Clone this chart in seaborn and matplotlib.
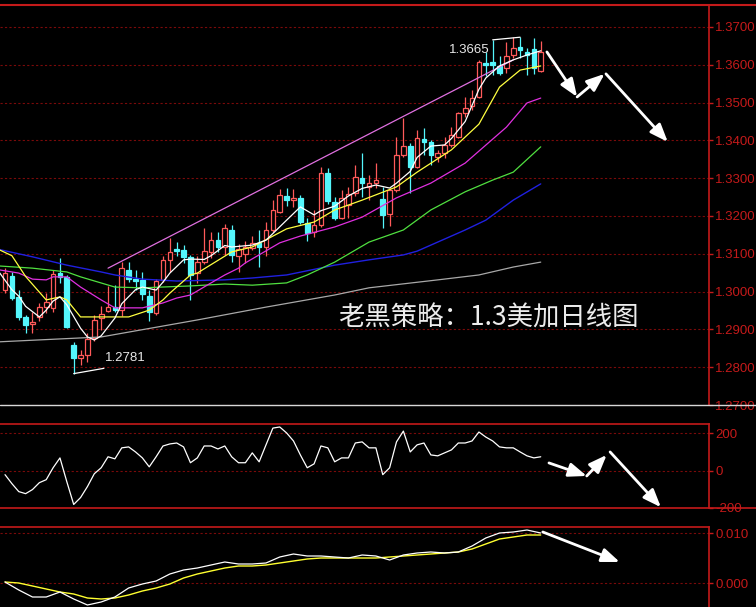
import matplotlib
matplotlib.use("Agg")
import matplotlib.pyplot as plt
from matplotlib.lines import Line2D
import seaborn as sns

sns.set_theme(style="dark", rc={"axes.facecolor": "black", "figure.facecolor": "black",
                                "savefig.facecolor": "black"})
plt.rcParams['font.family'] = ['Liberation Sans', 'Noto Sans CJK SC', 'DejaVu Sans']

# ---------------- data (daily USD/CAD candles) ----------------
opens = [1.3004, 1.3041, 1.2986, 1.2933, 1.2914, 1.2933, 1.2959, 1.2957, 1.3049, 1.3039,
         1.2859, 1.2824, 1.2832, 1.2877, 1.2930, 1.2949, 1.2959, 1.2951, 1.3057, 1.3033,
         1.3031, 1.2988, 1.2943, 1.3031, 1.3084, 1.3113, 1.3110, 1.3092, 1.3049, 1.3078,
         1.3105, 1.3137, 1.3118, 1.3163, 1.3094, 1.3100, 1.3115, 1.3129, 1.3118, 1.3163,
         1.3211, 1.3253, 1.3242, 1.3248, 1.3182, 1.3158, 1.3176, 1.3314, 1.3237, 1.3195,
         1.3229, 1.3261, 1.3301, 1.3277, 1.3287, 1.3245, 1.3205, 1.3269, 1.3361, 1.3385,
         1.3330, 1.3404, 1.3396, 1.3356, 1.3367, 1.3388, 1.3409, 1.3472, 1.3491, 1.3515,
         1.3605, 1.3607, 1.3597, 1.3592, 1.3626, 1.3647, 1.3634, 1.3642, 1.3584]
highs = [1.3062, 1.3052, 1.3004, 1.2938, 1.2946, 1.2970, 1.2996, 1.3057, 1.3089, 1.3044,
         1.2867, 1.2846, 1.2890, 1.2938, 1.2962, 1.3015, 1.3017, 1.3078, 1.3078, 1.3057,
         1.3052, 1.3004, 1.3033, 1.3094, 1.3142, 1.3131, 1.3123, 1.3097, 1.3094, 1.3168,
         1.3158, 1.3158, 1.3179, 1.3176, 1.3126, 1.3134, 1.3147, 1.3163, 1.3184, 1.3242,
         1.3271, 1.3274, 1.3271, 1.3256, 1.3195, 1.3216, 1.3330, 1.3327, 1.3250, 1.3269,
         1.3277, 1.3335, 1.3367, 1.3308, 1.3340, 1.3277, 1.3274, 1.3409, 1.3459, 1.3393,
         1.3428, 1.3433, 1.3401, 1.3375, 1.3409, 1.3435, 1.3475, 1.3515, 1.3533, 1.3613,
         1.3634, 1.3665, 1.3623, 1.3660, 1.3674, 1.3674, 1.3644, 1.3671, 1.3663]
lows = [1.2996, 1.2978, 1.2925, 1.2890, 1.2890, 1.2922, 1.2943, 1.2946, 1.3023, 1.2904,
        1.2781, 1.2806, 1.2814, 1.2869, 1.2898, 1.2946, 1.2946, 1.2935, 1.3025, 1.3004,
        1.2978, 1.2922, 1.2938, 1.3025, 1.3052, 1.3094, 1.3076, 1.2978, 1.3023, 1.3073,
        1.3089, 1.3105, 1.3097, 1.3078, 1.3052, 1.3076, 1.3110, 1.3065, 1.3094, 1.3158,
        1.3208, 1.3226, 1.3224, 1.3179, 1.3134, 1.3144, 1.3171, 1.3232, 1.3189, 1.3192,
        1.3195, 1.3253, 1.3250, 1.3242, 1.3274, 1.3168, 1.3174, 1.3264, 1.3356, 1.3261,
        1.3327, 1.3361, 1.3335, 1.3343, 1.3353, 1.3383, 1.3406, 1.3462, 1.3480, 1.3512,
        1.3570, 1.3573, 1.3573, 1.3578, 1.3618, 1.3618, 1.3573, 1.3576, 1.3581]
closes = [1.3049, 1.2983, 1.2933, 1.2912, 1.2920, 1.2959, 1.2972, 1.3047, 1.3039, 1.2906,
          1.2824, 1.2832, 1.2875, 1.2925, 1.2941, 1.2959, 1.2951, 1.3062, 1.3033, 1.3028,
          1.2994, 1.2946, 1.3028, 1.3084, 1.3105, 1.3107, 1.3092, 1.3044, 1.3078, 1.3107,
          1.3137, 1.3118, 1.3168, 1.3097, 1.3113, 1.3118, 1.3129, 1.3118, 1.3163, 1.3216,
          1.3256, 1.3242, 1.3248, 1.3184, 1.3155, 1.3176, 1.3314, 1.3240, 1.3195, 1.3248,
          1.3258, 1.3303, 1.3287, 1.3287, 1.3295, 1.3203, 1.3269, 1.3361, 1.3385, 1.3330,
          1.3406, 1.3396, 1.3361, 1.3367, 1.3388, 1.3414, 1.3472, 1.3486, 1.3512, 1.3607,
          1.3599, 1.3599, 1.3578, 1.3623, 1.3644, 1.3639, 1.3626, 1.3592, 1.3634]

# moving averages (sampled at day indices)
ma5_day = [-1, 1, 2, 3, 5, 6, 7, 8, 9, 11, 12, 13, 14, 16, 17, 19, 20, 22, 23, 24, 26, 27, 29, 30,
           32, 33, 36, 38, 41, 43, 45, 46, 48, 50, 52, 54, 56, 57, 59, 60, 62, 64, 65, 67, 69, 70,
           72, 74, 76, 78]
ma5_val = [1.3055, 1.3005, 1.2988, 1.2961, 1.2933, 1.2951, 1.2975, 1.2986, 1.2965, 1.2903,
           1.2880, 1.2872, 1.2883, 1.2930, 1.2968, 1.3005, 1.3012, 1.3004, 1.3025, 1.3049,
           1.3084, 1.3086, 1.3085, 1.3095, 1.3122, 1.3118, 1.3123, 1.3136, 1.3189, 1.3224,
           1.3203, 1.3214, 1.3226, 1.3253, 1.3273, 1.3282, 1.3274, 1.3287, 1.3318, 1.3355,
           1.3385, 1.3388, 1.3405, 1.3450, 1.3535, 1.3565, 1.3597, 1.3613, 1.3626, 1.3637]
ma10_day = [-1, 1, 3, 6, 8, 9, 11, 18, 21, 23, 24, 27, 28, 33, 36, 41, 45, 48, 52, 57, 60, 65,
            69, 72, 75, 78]
ma10_val = [1.3112, 1.3095, 1.3040, 1.2978, 1.2986, 1.2978, 1.2933, 1.2933, 1.2951, 1.2978,
            1.2996, 1.3044, 1.3049, 1.3105, 1.3118, 1.3166, 1.3184, 1.3216, 1.3242, 1.3277,
            1.3316, 1.3375, 1.3443, 1.3541, 1.3586, 1.3597]
ma20_day = [-1, 2, 4, 6, 7, 9, 11, 14, 16, 20, 23, 25, 27, 30, 32, 34, 35, 40, 43, 48, 52, 57,
            62, 67, 73, 76, 78]
ma20_val = [1.3058, 1.3049, 1.3033, 1.3031, 1.3039, 1.3039, 1.3012, 1.2978, 1.2957, 1.2957,
            1.2970, 1.2983, 1.2991, 1.3023, 1.3044, 1.3062, 1.3076, 1.3129, 1.3147, 1.3171,
            1.3197, 1.3248, 1.3287, 1.3340, 1.3435, 1.3499, 1.3512]
ma30_day = [-1, 4, 9, 11, 16, 20, 27, 32, 36, 41, 44, 48, 53, 58, 62, 67, 71, 74, 78]
ma30_val = [1.3068, 1.3062, 1.3052, 1.3039, 1.3012, 1.3010, 1.3015, 1.3020, 1.3017, 1.3023,
            1.3044, 1.3078, 1.3131, 1.3163, 1.3216, 1.3264, 1.3295, 1.3316, 1.3383]
ma60_day = [-1, 4, 9, 14, 16, 20, 25, 32, 36, 41, 48, 53, 58, 60, 67, 70, 74, 78]
ma60_val = [1.3112, 1.3092, 1.3070, 1.3052, 1.3044, 1.3033, 1.3028, 1.3031, 1.3036, 1.3044,
            1.3070, 1.3084, 1.3097, 1.3107, 1.3163, 1.3189, 1.3242, 1.3285]
ma120_day = [-1, 14, 28, 38, 48, 53, 63, 69, 74, 78]
ma120_val = [1.2867, 1.2880, 1.2925, 1.2959, 1.2991, 1.3010, 1.3031, 1.3044, 1.3065, 1.3078]

# channel trend line
trend_day = [15, 74]
trend_val = [1.3062, 1.3613]

# CCI per day
cci = [-21, -69, -112, -123, -101, -64, -48, 16, 69, -59,
       -181, -144, -85, -16, 16, 75, 64, 123, 128, 101,
       69, 21, 75, 133, 144, 149, 128, 43, 69, 133,
       133, 117, 133, 75, 43, 43, 96, 48, 139, 229,
       235, 203, 160, 85, 16, 37, 133, 123, 48, 69,
       69, 149, 155, 123, 123, -21, 16, 155, 213, 101,
       139, 149, 85, 80, 96, 112, 149, 149, 160, 208,
       181, 160, 128, 123, 123, 101, 80, 69, 75]

# MACD (every second day)
macd_day = list(range(0, 79, 2))
dif = [0.0002, -0.0014, -0.0028, -0.0028, -0.0018, -0.0032, -0.0044, -0.0038, -0.0028, -0.0010,
       -0.0002, 0.0004, 0.0018, 0.0026, 0.0030, 0.0036, 0.0042, 0.0038, 0.0038, 0.0040,
       0.0052, 0.0058, 0.0054, 0.0054, 0.0052, 0.0050, 0.0056, 0.0054, 0.0046, 0.0056,
       0.0060, 0.0062, 0.0060, 0.0062, 0.0074, 0.0090, 0.0100, 0.0102, 0.0106, 0.0100]
dea = [0.0002, 0.0000, -0.0006, -0.0012, -0.0018, -0.0022, -0.0030, -0.0032, -0.0030, -0.0024,
       -0.0016, -0.0010, -0.0002, 0.0010, 0.0018, 0.0024, 0.0030, 0.0034, 0.0034, 0.0036,
       0.0040, 0.0044, 0.0048, 0.0050, 0.0050, 0.0050, 0.0050, 0.0050, 0.0052, 0.0054,
       0.0056, 0.0058, 0.0060, 0.0062, 0.0068, 0.0078, 0.0088, 0.0092, 0.0096, 0.0096]

price_ticks = [1.27, 1.28, 1.29, 1.30, 1.31, 1.32, 1.33, 1.34, 1.35, 1.36, 1.37]
cci_ticks = [-200, 0, 200]
macd_ticks = [0.0, 0.010]

title_text = "老黑策略：1.3美加日线图"
high_label = "1.3665"
low_label = "1.2781"

# ---------------- styling ----------------
W, H = 756, 607
AXRED = '#c41a1a'
GRID = '#7a0a0a'
UP = '#ff5a5a'
DOWN = '#54f6fc'
XLIM = (-0.73, 102.5)


def rect(x0, y0, x1, y1):
    return [x0 / W, 1 - y1 / H, (x1 - x0) / W, (y1 - y0) / H]


fig = plt.figure(figsize=(7.56, 6.07), dpi=100)
fig.patch.set_facecolor('black')
ax = fig.add_axes(rect(0, 5, 709, 405))
ax2 = fig.add_axes(rect(0, 424, 709, 508))
ax3 = fig.add_axes(rect(0, 527, 709, 607))

for a in (ax, ax2, ax3):
    a.set_facecolor('black')
    for s in a.spines.values():
        s.set_visible(False)
    a.spines['right'].set_visible(True)
    a.spines['right'].set_color(AXRED)
    a.spines['right'].set_linewidth(1.2)
    a.yaxis.tick_right()
    a.tick_params(axis='y', colors=AXRED, labelcolor=AXRED, length=3, width=1,
                  labelsize=9.5, pad=1.5, right=True, left=False)
    a.set_xticks([])
    a.grid(False)
    a.set_xlim(*XLIM)
    a.set_xlabel('')
    a.set_ylabel('')
for a in (ax2, ax3):
    a.spines['top'].set_visible(True)
    a.spines['top'].set_color(AXRED)
    a.spines['top'].set_linewidth(1.2)

# ---------------- main price panel ----------------
ax.set_ylim(1.27, 1.37582)
ax.set_yticks(price_ticks)
ax.set_yticklabels([f"{t:.4f}" for t in price_ticks])
for t in price_ticks:
    ax.axhline(t, color=GRID, lw=0.8, ls=(0, (2, 2)), zorder=0)

days = list(range(len(opens)))
for d, o, h, l, c in zip(days, opens, highs, lows, closes):
    col = UP if c >= o else DOWN
    ax.vlines(d, l, h, color=col, lw=0.9, zorder=2)
    face = 'black' if c >= o else DOWN
    ax.bar(d, abs(c - o), bottom=min(o, c), width=0.68, color=face, edgecolor=col,
           linewidth=0.9, zorder=3)

sns.lineplot(x=ma120_day, y=ma120_val, ax=ax, color='#a8a8a8', lw=0.9, estimator=None, sort=False, zorder=4)
sns.lineplot(x=ma60_day, y=ma60_val, ax=ax, color='#2020e0', lw=1.0, estimator=None, sort=False, zorder=4)
sns.lineplot(x=ma30_day, y=ma30_val, ax=ax, color='#50e040', lw=0.9, estimator=None, sort=False, zorder=4)
sns.lineplot(x=ma20_day, y=ma20_val, ax=ax, color='#e030e0', lw=0.9, estimator=None, sort=False, zorder=4)
sns.lineplot(x=ma10_day, y=ma10_val, ax=ax, color='#ffff40', lw=0.9, estimator=None, sort=False, zorder=5)
sns.lineplot(x=ma5_day, y=ma5_val, ax=ax, color='#ffffff', lw=0.9, estimator=None, sort=False, zorder=5)
sns.lineplot(x=trend_day, y=trend_val, ax=ax, color='#e070e0', lw=0.9, estimator=None, sort=False, zorder=4)
ax.set_xlim(*XLIM)
ax.set_ylim(1.27, 1.37582)
ax.set_xlabel('')
ax.set_ylabel('')

# extreme markers
ax.plot([71, 75], [1.3666, 1.3673], color='white', lw=0.9, zorder=6)
ax.text(70.6, 1.3639, high_label, color='#e8e8e8', fontsize=9.5, ha='right', va='center', zorder=6)
ax.plot([10, 14.4], [1.2783, 1.2797], color='white', lw=0.9, zorder=6)
ax.text(14.6, 1.2824, low_label, color='#e8e8e8', fontsize=9.5, ha='left', va='center', zorder=6)

ax.text(48.5, 1.2930, title_text, color='#ececec', fontsize=19, ha='left', va='center',
        family=['Noto Sans CJK SC', 'DejaVu Sans'], zorder=6)

arrow = dict(arrowstyle="-|>,head_length=0.9,head_width=0.35", color='white', lw=2.0,
             shrinkA=0, shrinkB=0, mutation_scale=12)
ax.annotate("", xy=(83.3, 1.3515), xytext=(78.9, 1.3634), arrowprops=arrow, zorder=7)
ax.annotate("", xy=(87.3, 1.3576), xytext=(83.3, 1.3515), arrowprops=arrow, zorder=7)
ax.annotate("", xy=(96.5, 1.3396), xytext=(87.5, 1.3576), arrowprops=arrow, zorder=7)

# ---------------- CCI panel ----------------
ax2.set_ylim(-200, 251)
ax2.set_yticks(cci_ticks)
ax2.set_yticklabels([str(t) for t in cci_ticks])
for t in cci_ticks:
    ax2.axhline(t, color=GRID, lw=0.8, ls=(0, (2, 2)), zorder=0)
sns.lineplot(x=days, y=cci, ax=ax2, color='white', lw=0.9, estimator=None, sort=False)
ax2.set_xlim(*XLIM)
ax2.set_ylim(-200, 251)
ax2.set_xlabel('')
ax2.set_ylabel('')
ax2.annotate("", xy=(84.7, -28), xytext=(79.2, 42), arrowprops=arrow)
ax2.annotate("", xy=(87.6, 85), xytext=(84.7, -28), arrowprops=arrow)
ax2.annotate("", xy=(95.5, -196), xytext=(88.1, 101), arrowprops=arrow)

# ---------------- MACD panel ----------------
ax3.set_ylim(-0.0048, 0.0112)
ax3.set_yticks(macd_ticks)
ax3.set_yticklabels([f"{t:.3f}" for t in macd_ticks])
for t in macd_ticks:
    ax3.axhline(t, color=GRID, lw=0.8, ls=(0, (2, 2)), zorder=0)
sns.lineplot(x=macd_day, y=dea, ax=ax3, color='#ffff30', lw=1.0, estimator=None, sort=False)
sns.lineplot(x=macd_day, y=dif, ax=ax3, color='white', lw=0.9, estimator=None, sort=False)
ax3.set_xlim(*XLIM)
ax3.set_ylim(-0.0048, 0.0112)
ax3.set_xlabel('')
ax3.set_ylabel('')
ax3.annotate("", xy=(89.5, 0.0042), xytext=(78.3, 0.0102), arrowprops=arrow)

# full-width frame lines
fig.add_artist(Line2D([0, 1], [1 - 4.5 / H, 1 - 4.5 / H], transform=fig.transFigure, color=AXRED, lw=1.5))
fig.add_artist(Line2D([0, 1], [1 - 405 / H, 1 - 405 / H], transform=fig.transFigure, color='#d8d8d8', lw=1.0))
fig.add_artist(Line2D([0, 1], [1 - 508 / H, 1 - 508 / H], transform=fig.transFigure, color=AXRED, lw=1.2))

fig.savefig('out.png', dpi=100, facecolor='black')
